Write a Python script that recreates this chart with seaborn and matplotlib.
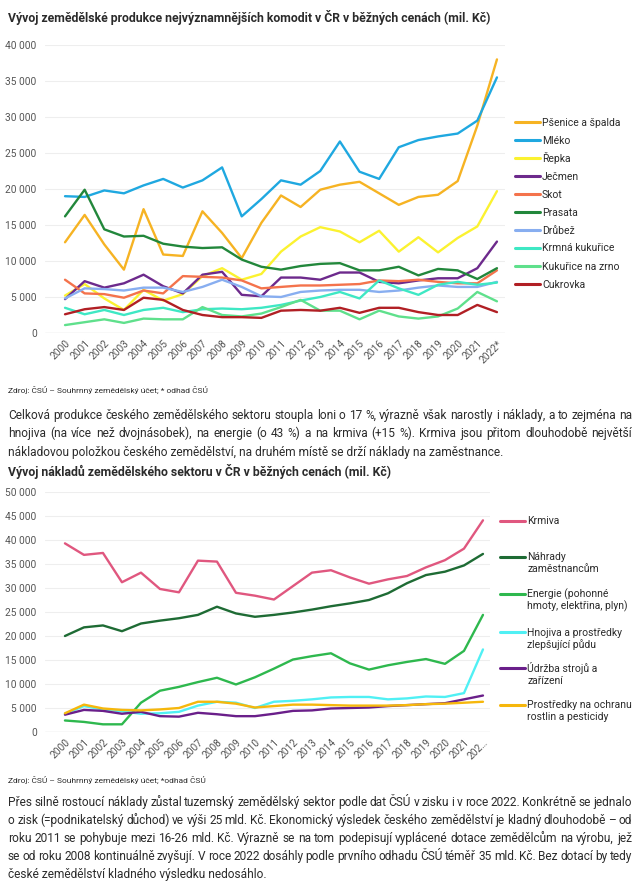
import numpy as np
import pandas as pd
import matplotlib
matplotlib.use('Agg')
import matplotlib.pyplot as plt
import seaborn as sns
from matplotlib.lines import Line2D

# --- data, chart 1: production (mil. Kč) ---
years = list(range(2000, 2023))
year_labels_1 = [str(y) for y in range(2000, 2022)] + ['2022*']
year_labels_2 = [str(y) for y in range(2000, 2022)] + ['202…']

psenice = [12600, 16400, 12300, 8800, 17200, 10900, 10700, 16900, 13900, 10400, 15300, 19100,
           17500, 19900, 20600, 21000, 19400, 17800, 18900, 19200, 21100, 28800, 38000]
mleko = [19000, 18900, 19800, 19400, 20500, 21400, 20200, 21200, 23000, 16200, 18600, 21200,
         20600, 22500, 26600, 22400, 21400, 25800, 26800, 27300, 27700, 29500, 35500]
repka = [5200, 6800, 4800, 3200, 6000, 4500, 5400, 7900, 9000, 7400, 8200, 11300,
         13400, 14700, 14100, 12600, 14200, 11300, 13300, 11200, 13200, 14800, 19700]
jecmen = [4700, 7200, 6300, 6900, 8100, 6500, 5500, 8100, 8500, 5300, 5100, 7700,
          7700, 7400, 8400, 8400, 7100, 6900, 7300, 7600, 7600, 9000, 12700]
skot = [7400, 5500, 5400, 4900, 5900, 5500, 7900, 7800, 7700, 7300, 6200, 6400,
        6600, 6600, 6700, 6800, 7300, 7200, 7400, 7100, 6900, 6900, 8700]
prasata = [16200, 19900, 14400, 13400, 13500, 12400, 12000, 11800, 11900, 10200, 9200, 8800,
           9300, 9600, 9700, 8700, 8700, 9200, 8000, 8900, 8700, 7500, 9000]
drubez = [4800, 6200, 6100, 5900, 6300, 6300, 5700, 6400, 7400, 6400, 5100, 5000,
          5700, 5900, 6000, 6000, 5700, 5900, 6300, 6600, 6400, 6400, 7100]
krmna_kukurice = [3500, 2600, 3200, 2500, 3200, 3500, 2900, 3300, 3400, 3300, 3500, 3900,
                  4500, 5000, 5700, 4800, 7300, 6200, 5300, 6700, 7100, 6700, 7000]
kukurice_zrno = [1100, 1500, 1900, 1400, 2000, 1900, 1900, 3600, 2500, 2300, 2700, 3600,
                 4600, 3100, 3100, 1900, 3100, 2300, 2000, 2300, 3400, 5700, 4400]
cukrovka = [2600, 3300, 3600, 3200, 4900, 4600, 3200, 2500, 2200, 2200, 2100, 3100,
            3200, 3100, 3500, 2800, 3500, 3500, 2900, 2500, 2500, 3900, 2900]

names_1 = ['Pšenice a špalda', 'Mléko', 'Řepka', 'Ječmen', 'Skot', 'Prasata', 'Drůbež',
           'Krmná kukuřice', 'Kukuřice na zrno', 'Cukrovka']
series_1 = [psenice, mleko, repka, jecmen, skot, prasata, drubez, krmna_kukurice,
            kukurice_zrno, cukrovka]
colors_1 = ['#f6b323', '#1fa8e0', '#fbf230', '#6d2a8c', '#f4734c', '#22873b', '#88aef0',
            '#3ee8c4', '#5fe08c', '#b11f24']

# --- data, chart 2: costs (mil. Kč) ---
krmiva = [39300, 36900, 37300, 31200, 33200, 29800, 29100, 35700, 35500, 29000, 28400, 27600,
          30400, 33200, 33700, 32200, 30900, 31800, 32500, 34300, 35800, 38200, 44100]
nahrady = [20000, 21800, 22200, 21000, 22600, 23200, 23700, 24400, 26100, 24700, 24000, 24400,
           24900, 25500, 26200, 26800, 27500, 28900, 31000, 32700, 33400, 34700, 37100]
energie = [2400, 2100, 1600, 1600, 6100, 8600, 9400, 10400, 11300, 9900, 11400, 13200,
           15100, 15800, 16400, 14300, 13000, 13900, 14600, 15200, 14200, 16900, 24400]
hnojiva = [3800, 5400, 4700, 4300, 3800, 3900, 4200, 5500, 6300, 6100, 5000, 6300,
           6500, 6800, 7200, 7300, 7300, 6800, 7000, 7400, 7300, 8100, 17200]
udrzba = [3600, 4600, 4400, 3800, 4200, 3300, 3200, 4000, 3700, 3300, 3300, 3800,
          4400, 4500, 4900, 5000, 5100, 5400, 5600, 5800, 6000, 6800, 7600]
ochrana = [3900, 5700, 4900, 4600, 4500, 4700, 5000, 6300, 6300, 5900, 5100, 5400,
           5700, 5700, 5600, 5500, 5500, 5500, 5600, 5800, 5900, 6100, 6300]

names_2 = ['Krmiva', 'Náhrady\nzaměstnancům', 'Energie (pohonné\nhmoty, elektřina, plyn)',
           'Hnojiva a prostředky\nzlepšující půdu', 'Údržba strojů a\nzařízení',
           'Prostředky na ochranu\nrostlin a pesticidy']
series_2 = [krmiva, nahrady, energie, hnojiva, udrzba, ochrana]
colors_2 = ['#e0577f', '#1e6b34', '#2eb84e', '#50f0f4', '#6a1f8a', '#f6b70c']

sns.set_theme(style='white')
plt.rcParams['font.family'] = ['Roboto', 'DejaVu Sans']

W, H = 640, 883
fig = plt.figure(figsize=(W / 100, H / 100), dpi=100)
fig.patch.set_facecolor('white')
TXT = '#2b2b2b'
TICK = '#555555'


def fx(x):
    return x / W


def fy(y):
    return 1 - y / H


def add_ax(left, top, right, bottom):
    return fig.add_axes([fx(left), fy(bottom), (right - left) / W, (bottom - top) / H])


def line_chart(ax, names, series, colors, labels, ymax, step, xlim):
    df = pd.DataFrame({'x': np.tile(np.arange(len(years)), len(names)),
                       'value': np.concatenate([np.array(s) for s in series]),
                       'name': np.repeat(names, len(years))})
    sns.lineplot(data=df, x='x', y='value', hue='name', hue_order=names,
                 palette=dict(zip(names, colors)), linewidth=1.7, legend=False, ax=ax)
    ax.set_xlim(*xlim)
    ax.set_ylim(0, ymax)
    ticks = np.arange(0, ymax + 1, step)
    ax.set_yticks(ticks)
    ax.set_yticklabels([f'{int(t):,}'.replace(',', ' ') for t in ticks], fontsize=7.3, color=TICK)
    ax.set_xticks(range(len(years)))
    ax.set_xticklabels(labels, rotation=45, ha='right', va='top', rotation_mode='anchor',
                       fontsize=7.3, color=TICK)
    ax.tick_params(axis='both', length=0, pad=6)
    ax.tick_params(axis='x', pad=4)
    for t in ticks[1:]:
        ax.axhline(t, color='#eeeeee', lw=0.8, zorder=0)
    ax.axhline(0, color='#dddddd', lw=1.0, zorder=0)
    for s in ax.spines.values():
        s.set_visible(False)
    ax.set_xlabel('')
    ax.set_ylabel('')
    ax.set_facecolor('white')


def legend_px(names, colors, x0, ys, text_size=7.5):
    for n, c, y in zip(names, colors, ys):
        fig.add_artist(Line2D([fx(x0), fx(x0 + 25)], [fy(y), fy(y)], color=c, lw=2.2))
        lines = n.split('\n')
        for k, ln in enumerate(lines):
            fig.text(fx(x0 + 27), fy(y + 3.5 + 12 * k), ln, fontsize=text_size, color=TXT,
                     va='baseline', ha='left')


def justified(lines, y0, step, x0=8, x1=632, size=8.6):
    # y0 is the visual middle of the first line; text is placed on its baseline
    r = fig.canvas.get_renderer()
    for i, line in enumerate(lines):
        y = y0 + i * step + 4
        if i == len(lines) - 1:
            fig.text(fx(x0), fy(y), line, fontsize=size, color=TXT, va='baseline')
            continue
        words = line.split(' ')
        texts = [fig.text(0, 0, w, fontsize=size, color=TXT, va='baseline') for w in words]
        widths = [t.get_window_extent(r).width for t in texts]
        gap = (x1 - x0 - sum(widths)) / (len(words) - 1)
        x = x0
        for t, w in zip(texts, widths):
            t.set_position((fx(x), fy(y)))
            x += w + gap


# chart 1
fig.text(fx(8), fy(22), 'Vývoj zemědělské produkce nejvýznamnějších komodit v ČR v běžných cenách (mil. Kč)',
         fontsize=8.8, fontweight='bold', color=TXT, va='baseline')
ax1 = add_ax(45, 45, 505, 333)
line_chart(ax1, names_1, series_1, colors_1, year_labels_1, 40000, 5000, (-1.02, 22.41))
legend_px(names_1, colors_1, 515, [122 + 18 * k for k in range(len(names_1))])
fig.text(fx(8), fy(393), 'Zdroj: ČSÚ – Souhrnný zemědělský účet; * odhad ČSÚ',
         fontsize=6, color=TXT, va='baseline')

justified([
    'Celková produkce českého zemědělského sektoru stoupla loni o 17 %, výrazně však narostly i náklady, a to zejména na',
    'hnojiva (na více než dvojnásobek), na energie (o 43 %) a na krmiva (+15 %). Krmiva jsou přitom dlouhodobě největší',
    'nákladovou položkou českého zemědělství, na druhém místě se drží náklady na zaměstnance.',
], 415, 18.5)

# chart 2
fig.text(fx(8), fy(476), 'Vývoj nákladů zemědělského sektoru v ČR v běžných cenách (mil. Kč)',
         fontsize=8.8, fontweight='bold', color=TXT, va='baseline')
ax2 = add_ax(45, 492, 490, 732)
line_chart(ax2, names_2, series_2, colors_2, year_labels_2, 50000, 5000, (-1.05, 22.37))
legend_px(names_2, colors_2, 500, [521, 557, 594, 632, 668, 705])
fig.text(fx(8), fy(783), 'Zdroj: ČSÚ – Souhrnný zemědělský účet; *odhad ČSÚ',
         fontsize=6, color=TXT, va='baseline')

justified([
    'Přes silně rostoucí náklady zůstal tuzemský zemědělský sektor podle dat ČSÚ v zisku i v roce 2022. Konkrétně se jednalo',
    'o zisk (=podnikatelský důchod) ve výši 25 mld. Kč. Ekonomický výsledek českého zemědělství je kladný dlouhodobě – od',
    'roku 2011 se pohybuje mezi 16-26 mld. Kč. Výrazně se na tom podepisují vyplácené dotace zemědělcům na výrobu, jež',
    'se od roku 2008 kontinuálně zvyšují. V roce 2022 dosáhly podle prvního odhadu ČSÚ téměř 35 mld. Kč. Bez dotací by tedy',
    'české zemědělství kladného výsledku nedosáhlo.',
], 802, 18)

fig.savefig('out.png', dpi=100, facecolor='white')
